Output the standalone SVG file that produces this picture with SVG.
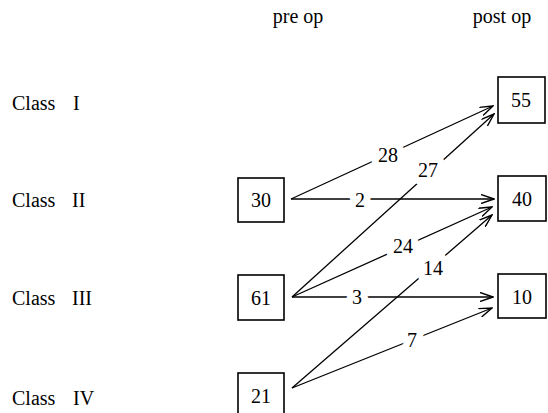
<svg xmlns="http://www.w3.org/2000/svg" width="548" height="413" viewBox="0 0 548 413">
<style>
text{font-family:"Liberation Serif","DejaVu Serif",serif;fill:#000;font-size:20px}
.box{fill:#fff;stroke:#000;stroke-width:1.6}
.num{text-anchor:middle}
.lbl{text-anchor:middle;paint-order:stroke;stroke:#fff;stroke-width:14px;stroke-linejoin:round}
.edge{stroke:#000;stroke-width:1.3;fill:none;marker-end:url(#ah)}
</style>
<defs>
<marker id="ah" viewBox="0 0 14 10" refX="13" refY="5" markerWidth="14" markerHeight="10" markerUnits="userSpaceOnUse" orient="auto">
<path d="M0,0.5 L13,5 L0,9.5" fill="none" stroke="#000" stroke-width="1.4"/>
</marker>
</defs>
<rect width="548" height="413" fill="#fff"/>
<g id="headers">
<text x="298" y="23" text-anchor="middle">pre op</text>
<text x="502" y="23" text-anchor="middle">post op</text>
</g>
<g id="classes">
<text x="12" y="110">Class <tspan x="73">I</tspan></text>
<text x="12" y="207">Class <tspan x="72">II</tspan></text>
<text x="12" y="305">Class <tspan x="72">III</tspan></text>
<text x="12" y="405">Class <tspan x="73">IV</tspan></text>
</g>
<g id="connectors">
<line class="edge" x1="291" y1="199" x2="493" y2="106"/>
<line class="edge" x1="292" y1="297" x2="494" y2="114"/>
<line class="edge" x1="291" y1="199" x2="494" y2="199"/>
<line class="edge" x1="292" y1="297" x2="492" y2="207"/>
<line class="edge" x1="292" y1="388" x2="492" y2="215"/>
<line class="edge" x1="292" y1="297" x2="493" y2="297"/>
<line class="edge" x1="292" y1="388" x2="492" y2="308"/>
<text class="lbl" x="388" y="162">28</text>
<text class="lbl" x="428" y="177">27</text>
<text class="lbl" x="360" y="207">2</text>
<text class="lbl" x="403" y="253">24</text>
<text class="lbl" x="433" y="275">14</text>
<text class="lbl" x="357" y="304">3</text>
<text class="lbl" x="412" y="347">7</text>
</g>
<g id="n30"><rect class="box" x="238" y="178" width="46" height="44"/><text class="num" x="261" y="207">30</text></g>
<g id="n61"><rect class="box" x="238" y="275" width="46" height="45"/><text class="num" x="261" y="305">61</text></g>
<g id="n21"><rect class="box" x="238" y="373" width="46" height="46"/><text class="num" x="261" y="403">21</text></g>
<g id="n55"><rect class="box" x="498" y="77" width="47" height="46"/><text class="num" x="521" y="107">55</text></g>
<g id="n40"><rect class="box" x="498" y="176" width="48" height="45"/><text class="num" x="522" y="206">40</text></g>
<g id="n10"><rect class="box" x="498" y="274" width="48" height="44"/><text class="num" x="522" y="304">10</text></g>
</svg>
